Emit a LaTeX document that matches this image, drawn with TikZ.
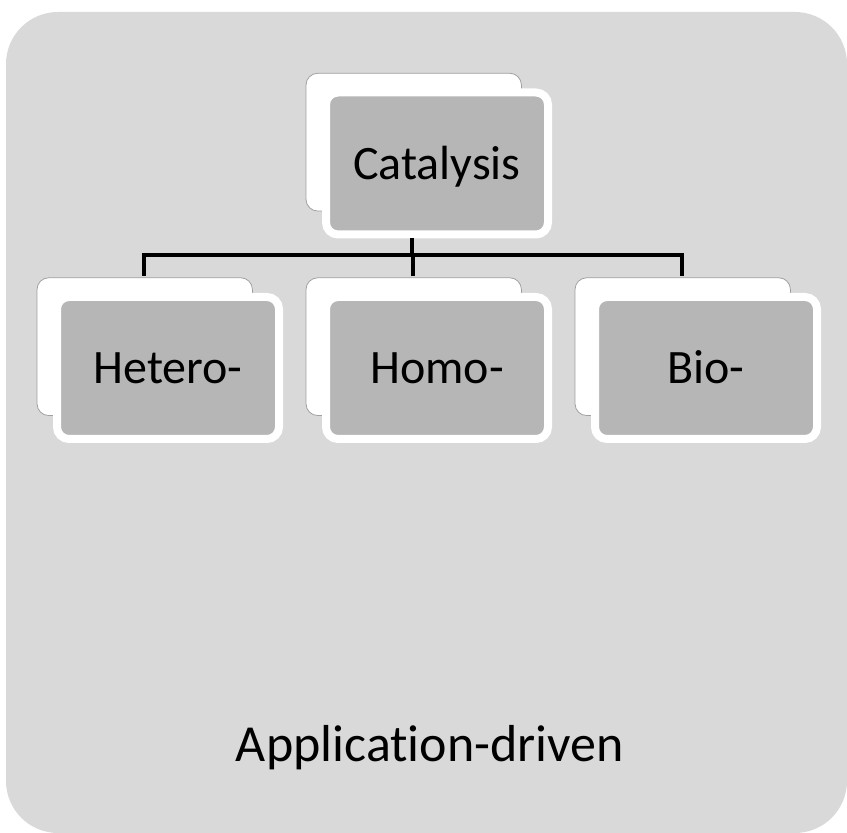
\documentclass[tikz,border=0pt]{standalone}
\usepackage{fontspec}
\setmainfont{Carlito}[Ligatures=NoCommon]
\usepackage{tikz}
\usetikzlibrary{shadows}

\definecolor{panelgray}{RGB}{217,217,217}
\definecolor{cardgray}{RGB}{182,182,182}
\definecolor{rimgray}{RGB}{160,160,160}

\begin{document}
\begin{tikzpicture}[x=1pt,y=1pt,
  level/.style={sibling distance=269pt,level distance=204.5pt},
  card/.style={rectangle,rounded corners=12pt,fill=cardgray,draw=white,line width=8pt,
    minimum width=222pt,minimum height=142pt,text height=32pt,text depth=0pt,
    font=\fontsize{48}{56}\selectfont,
    general shadow={fill=white,draw=rimgray,line width=0.8pt,
      shadow scale=0.97,shadow xshift=-24pt,shadow yshift=22pt}},
  edge from parent/.style={draw,black,line width=3.5pt},
  edge from parent path={([xshift=-25pt]\tikzparentnode.south) -- ++(0,-16.5pt)
    -| ([xshift=-24pt,yshift=17pt]\tikzchildnode.north)}]
  \useasboundingbox (0,0) rectangle (847,833);
  % grey panel behind everything
  \fill[panelgray,rounded corners=52pt] (6,0) rectangle (847,821);

  \node [card] (cat) at (437,669.5) {Catalysis}
    child {
      node [card] (het) {Hetero-}
    }
    child {
      node [card] (hom) {Homo-}
    }
    child {
      node [card] (bio) {Bio-}
    }
;
  \node [font=\fontsize{52}{62}\selectfont] (app) at (430,85) {Application-driven};
\end{tikzpicture}
\end{document}
